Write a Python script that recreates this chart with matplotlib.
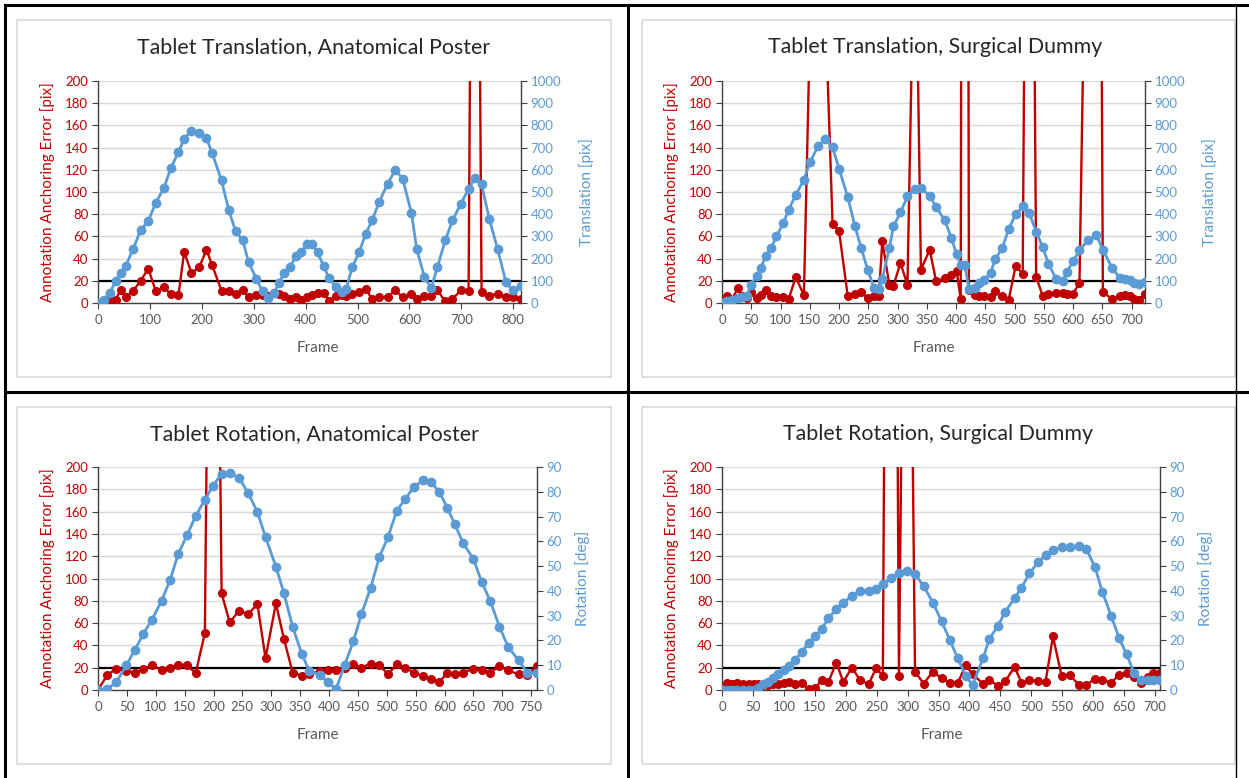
import matplotlib
matplotlib.use('Agg')
from matplotlib import pyplot as plt
from matplotlib.lines import Line2D
from matplotlib.patches import Rectangle

plt.rcParams['font.family'] = ['Lato', 'DejaVu Sans']

W, H = 1249, 778

ERROR_RED = '#C00000'
MOTION_BLUE = '#5B9BD5'
GRID_GREY = '#D9D9D9'
AXIS_DARK = '#404040'
TEXT_GREY = '#595959'

# --- Tablet translation, anatomical poster ---
p1_frames = [0, 12, 23, 34, 44, 53, 68, 82, 97, 111,
             127, 140, 155, 166, 180, 195, 209, 220, 238, 252,
             265, 279, 290, 305, 317, 328, 340, 348, 359, 369,
             382, 391, 403, 413, 423, 435, 445, 458, 470, 478,
             490, 503, 516, 528, 542, 558, 573, 587, 604, 614,
             629, 642, 654, 669, 683, 699, 714, 726, 739, 754,
             770, 786, 799, 815]
p1_error = [0, 3, 4, 3, 12, 5, 11, 20, 31, 11,
            14, 8, 7, 46, 27, 32, 48, 34, 11, 11,
            8, 12, 5, 7, 7, 6, 9, 8, 6, 4,
            5, 3, 5, 7, 9, 9, 2, 6, 7.5, 6.6,
            8.4, 9.6, 12.6, 3.6, 5.4, 5.4, 11.4, 5, 7.8, 3.6,
            6.6, 6, 11.4, 1.5, 3.6, 11.4, 10.5, 900, 9.6, 6.6,
            8.4, 5, 5.4, 3.6]
p1_translation = [0, 15, 45, 100, 135, 165, 245, 327, 370, 450,
                  518, 606, 680, 740, 776, 765, 742, 675, 552, 417,
                  325, 282, 184, 110, 52, 22, 45, 90, 135, 162,
                  210, 228, 265, 265, 228, 165, 112, 72, 48, 63,
                  162, 228, 312, 372, 457, 537, 600, 560, 405, 243,
                  117, 67, 162, 282, 372, 447, 513, 562, 535, 378,
                  243, 93, 57, 78]

# --- Tablet translation, surgical dummy ---
p2_frames = [0, 9, 17, 27, 35, 43, 49, 59, 66, 75,
             84, 93, 105, 114, 126, 140, 150, 164, 176, 189,
             200, 215, 227, 238, 249, 260, 268, 274, 286, 293,
             305, 317, 330, 340, 355, 366, 381, 392, 401, 408,
             415, 422, 433, 440, 447, 459, 467, 479, 490, 502,
             514, 525, 537, 548, 558, 571, 582, 589, 600, 611,
             625, 640, 651, 667, 680, 688, 697, 704, 713, 723]
p2_error = [0, 6, 3, 13.5, 6, 4.5, 9.6, 4.5, 7.5, 11.4,
            6.6, 5, 5, 3.6, 23.4, 7, 240, 300, 275, 71,
            65, 6, 8.4, 9.6, 4.5, 6, 6, 55.5, 16.5, 15.6,
            36, 16.5, 380, 30, 48, 19.5, 22.5, 25, 29, 3.6,
            2000, 12, 7.5, 6.6, 6, 5, 10.5, 6, 3, 33.6,
            26, 900, 23.4, 6.6, 8.4, 9, 9, 8.4, 8.4, 18,
            470, 1200, 9.6, 3.6, 6, 7, 6.6, 3.6, 3, 8.4]
p2_translation = [0, 7, 15, 22, 27, 30, 82, 120, 157, 213,
                  247, 300, 360, 420, 487, 555, 633, 705, 740, 702,
                  605, 477, 348, 247, 150, 67, 63, 108, 247, 345,
                  408, 480, 513, 517, 483, 432, 372, 292, 220, 172,
                  170, 63, 67, 90, 102, 135, 198, 247, 333, 400,
                  435, 405, 322, 252, 177, 108, 97, 138, 187, 237,
                  282, 305, 240, 157, 112, 110, 105, 90, 87, 93]

# --- Tablet rotation, anatomical poster ---
p3_frames = [0, 16, 32, 49, 64, 78, 93, 110, 125, 139,
             154, 169, 185, 199, 214, 228, 244, 260, 276, 290,
             308, 322, 337, 353, 366, 384, 398, 412, 427, 442,
             456, 472, 487, 502, 517, 532, 547, 562, 576, 591,
             605, 618, 632, 650, 664, 679, 695, 710, 728, 743,
             760]
p3_error = [0, 13.5, 19.2, 17, 15.6, 18.6, 22.5, 17.7, 20, 22.5,
            22.5, 15, 51, 800, 86.7, 60.6, 71, 68, 77, 28.5,
            77.7, 45.6, 15.6, 12.6, 14.1, 17.1, 17.7, 17.7, 20, 23,
            20, 23.7, 22.5, 14, 23, 20, 15.6, 12.6, 10, 7.2,
            15.6, 14, 15.6, 19.2, 17.7, 15.6, 21.6, 17.7, 14, 13.5,
            21.6]
p3_rotation = [0, 0.3, 3.2, 10, 16.2, 22.5, 28.2, 36, 44.5, 55,
               62.4, 70.2, 76.8, 82.4, 87.3, 87.6, 85.7, 79.5, 71.8, 61.7,
               49.8, 39, 25.5, 14.4, 7.7, 6, 3.2, 0.3, 10.1, 19.6,
               30.6, 41.2, 53.6, 61.7, 72.2, 77.2, 81.9, 84.6, 84, 79.9,
               73.4, 66.8, 59.3, 52.9, 43.7, 36, 25.5, 17.4, 12, 7,
               6.75]

# --- Tablet rotation, surgical dummy ---
p4_frames = [0, 8, 16, 25, 34, 43, 51, 58, 66, 75,
             83, 91, 100, 108, 118, 129, 140, 151, 161, 172,
             185, 196, 210, 223, 237, 249, 260, 273, 286, 299,
             312, 326, 341, 355, 368, 381, 394, 405, 422, 432,
             446, 458, 473, 484, 497, 511, 523, 535, 549, 562,
             577, 589, 603, 615, 629, 642, 654, 666, 677, 688,
             696, 708]
p4_error = [0, 6.6, 5.7, 6.6, 5.7, 5.1, 5.7, 5.1, 4.2, 4.2,
            5.7, 5.7, 6.6, 7.2, 5.1, 6.6, 0.6, 2.1, 8.7, 7.2,
            24.6, 7.2, 20.1, 9, 5.1, 19.5, 12.6, 1300, 12.6, 700,
            16.5, 5.7, 16.5, 10.5, 6.6, 6, 22.5, 14, 5.7, 9.3,
            3.6, 8.1, 20.7, 6.6, 8.7, 8.1, 7.5, 48, 12.6, 13.5,
            4.5, 4.5, 10.2, 9, 6.6, 13.5, 15.6, 11.7, 6.6, 11.7,
            15, 15.6]
p4_rotation = [0, 0, 0, 0, 0, 0, 0, 0.9, 2.3, 3.4,
               5, 6.3, 8, 9.7, 12, 15.5, 18.8, 21.9, 24.6, 29,
               32.7, 35.1, 38.1, 40.1, 40.1, 40.8, 42.8, 45.2, 47.3, 47.9,
               46.8, 41.9, 35.2, 27.7, 20.3, 12.8, 5.7, 2, 12.8, 20.5,
               25.9, 31.6, 37.1, 41.2, 47.1, 51.6, 54.3, 56.7, 57.6, 57.6,
               58.3, 57, 49.5, 39.4, 30, 20.9, 14.4, 7, 3.9, 3.9,
               3.9, 3.9]

ERROR_THRESHOLD = 20


def fx(x: float) -> float:
    return x / W


def fy(y: float) -> float:
    return 1.0 - y / H


def draw_panel(fig, plot_px, box_px, title, title_x, title_y, frame_x, frame_y,
               frames, error, motion, motion_label, motion_max, motion_step, x_step,
               left_label_x, right_label_x):
    x0, y0, x1, y1 = plot_px
    fig.patches.append(Rectangle((fx(box_px[0]), fy(box_px[3])), fx(box_px[2] - box_px[0]),
                                 (box_px[3] - box_px[1]) / H, transform=fig.transFigure,
                                 fill=False, edgecolor=GRID_GREY, linewidth=1.2, zorder=-1))

    ax = fig.add_axes((fx(x0), fy(y1), fx(x1 - x0), (y1 - y0) / H))
    ax.patch.set_alpha(0)
    ax.set_xlim(0, frames[-1])
    ax.set_ylim(0, 200)
    ax.set_yticks(range(0, 201, 20))
    ax.set_xticks(range(0, frames[-1] + 1, x_step))
    ax.grid(axis='y', color=GRID_GREY, linewidth=1)
    ax.set_axisbelow(True)
    ax.axhline(ERROR_THRESHOLD, color='black', linewidth=1.6, zorder=2)
    ax.plot(frames, error, color=ERROR_RED, linewidth=1.7, marker='o', markersize=5.5, zorder=3)
    for side in ('top', 'right'):
        ax.spines[side].set_visible(False)
    for side in ('left', 'bottom'):
        ax.spines[side].set_color(AXIS_DARK)
        ax.spines[side].set_linewidth(1)
    ax.tick_params(axis='y', direction='out', length=4, color=AXIS_DARK, labelcolor=ERROR_RED, labelsize=9.5, pad=3)
    ax.tick_params(axis='x', direction='out', length=4, color=AXIS_DARK, labelcolor=TEXT_GREY, labelsize=9.5, pad=4)

    ax2 = ax.twinx()
    ax2.set_ylim(0, motion_max)
    ax2.set_yticks(range(0, motion_max + 1, motion_step))
    ax2.plot(frames, motion, color=MOTION_BLUE, linewidth=2, marker='o', markersize=6, zorder=3)
    for side in ('top', 'left', 'bottom'):
        ax2.spines[side].set_visible(False)
    ax2.spines['right'].set_color(AXIS_DARK)
    ax2.spines['right'].set_linewidth(1)
    ax2.tick_params(axis='y', direction='out', length=4, color=AXIS_DARK, labelcolor=MOTION_BLUE, labelsize=9.5, pad=3)

    mid_y = (y0 + y1) / 2
    fig.text(fx(title_x), fy(title_y), title, fontsize=15.4, color='#262626', ha='center', va='center')
    fig.text(fx(frame_x), fy(frame_y), 'Frame', fontsize=11, color=TEXT_GREY, ha='center', va='center')
    fig.text(fx(left_label_x), fy(mid_y), 'Annotation Anchoring Error [pix]', fontsize=11,
             color=ERROR_RED, rotation=90, ha='center', va='center')
    fig.text(fx(right_label_x), fy(mid_y), motion_label, fontsize=11,
             color=MOTION_BLUE, rotation=90, ha='center', va='center')


fig = plt.figure(figsize=(W / 100, H / 100), dpi=100)

draw_panel(fig, (98, 81, 521, 303), (17, 20, 611, 377), 'Tablet Translation, Anatomical Poster',
           314, 47, 318, 348, p1_frames, p1_error, p1_translation, 'Translation [pix]', 1000, 100, 100,
           48, 587)
draw_panel(fig, (722, 81, 1145, 303), (642, 20, 1235, 377), 'Tablet Translation, Surgical Dummy',
           935, 47, 934, 348, p2_frames, p2_error, p2_translation, 'Translation [pix]', 1000, 100, 50,
           672, 1210)
draw_panel(fig, (98, 467, 537, 690), (17, 407, 611, 764), 'Tablet Rotation, Anatomical Poster',
           314, 434, 318, 735, p3_frames, p3_error, p3_rotation, 'Rotation [deg]', 90, 10, 50,
           48, 583)
draw_panel(fig, (722, 467, 1160, 690), (642, 407, 1235, 764), 'Tablet Rotation, Surgical Dummy',
           938, 434, 942, 735, p4_frames, p4_error, p4_rotation, 'Rotation [deg]', 90, 10, 50,
           672, 1206)

# table borders around the four charts
border_lines = [
    ((5, 5), (5, H), 2.2),
    ((5, W), (5, 5), 2.2),
    ((628, 628), (5, H), 2.2),
    ((5, W), (392, 392), 2.2),
    ((1236, 1236), (5, H), 1.0),
]
for xs, ys, lw in border_lines:
    fig.add_artist(Line2D([fx(x) for x in xs], [fy(y) for y in ys], color='black',
                          linewidth=lw, transform=fig.transFigure))

fig.savefig('out.png', dpi=100)
